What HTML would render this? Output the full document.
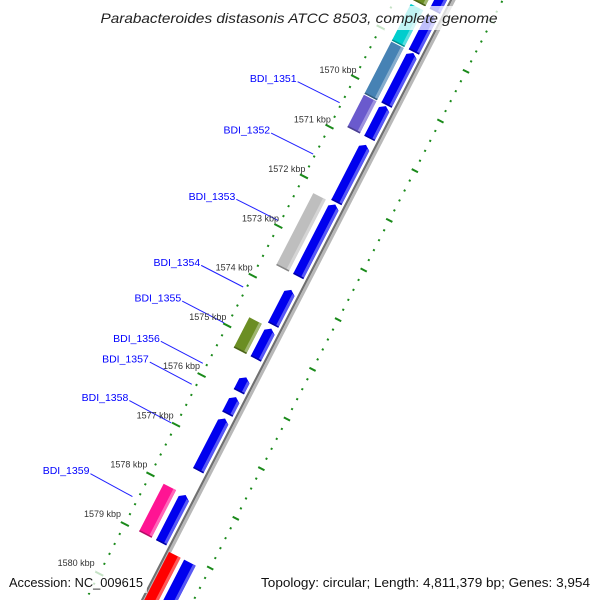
<!DOCTYPE html>
<html><head><meta charset="utf-8"><style>
html,body{margin:0;padding:0;background:#fff;overflow:hidden;width:600px;height:600px;}
svg{display:block;font-family:"Liberation Sans","DejaVu Sans",sans-serif;overflow:hidden;}
</style></head><body>
<svg id="map" width="600" height="600" viewBox="0 0 600 600" xmlns="http://www.w3.org/2000/svg">
<defs><clipPath id="frame"><rect x="0" y="0" width="600" height="600"/></clipPath></defs>
<rect x="0" y="0" width="600" height="600" fill="#fff"/>
<g clip-path="url(#frame)">
<g id="track" transform="translate(451,0) rotate(27.25)"></g>
<g id="labels"></g>
</g>
<rect x="96" y="6" width="408" height="24" fill="#fff" fill-opacity="0.75"/>
<text x="299" y="23" text-anchor="middle" font-size="14" font-style="italic" fill="#222" textLength="397" lengthAdjust="spacingAndGlyphs">Parabacteroides distasonis ATCC 8503, complete genome</text>
<rect x="5" y="571" width="142" height="22" fill="#fff" fill-opacity="0.75"/>
<text x="9" y="587" font-size="13" fill="#111" textLength="134" lengthAdjust="spacingAndGlyphs">Accession: NC_009615</text>
<rect x="256" y="571" width="338" height="22" fill="#fff" fill-opacity="0.75"/>
<text x="261" y="587" font-size="13" fill="#111" textLength="329" lengthAdjust="spacingAndGlyphs">Topology: circular; Length: 4,811,379 bp; Genes: 3,954</text>
</svg>
<script>
// forward genes (kbp)
const fwdStart = [1567.5, 1568.38, 1569.14, 1570.21, 1570.99, 1572.19, 1573.91, 1574.69, 1575.67, 1576.07, 1576.5, 1578.04];
const fwdEnd   = [1568.3, 1569.12, 1570.19, 1570.86, 1572.15, 1573.64, 1574.62, 1575.30, 1575.96, 1576.41, 1577.55, 1579.0];
const fwdCog   = ["#6b8e23", "#00cdcd", "#4682b4", "#6a5acd", "", "#bebebe", "", "#6b8e23", "", "", "", "#ff1493"];
const fwdNames = ["", "", "", "BDI_1351", "BDI_1352", "BDI_1353", "BDI_1354", "BDI_1355", "BDI_1356", "BDI_1357", "BDI_1358", "BDI_1359"];
// reverse genes
const revStart = [1579.08];
const revEnd   = [1580.9];
const revCog   = ["#ff0000"];
// ticks
const tickKbp = [1568, 1569, 1570, 1571, 1572, 1573, 1574, 1575, 1576, 1577, 1578, 1579, 1580, 1581];
const tickLabels = ["1568 kbp","1569 kbp","1570 kbp","1571 kbp","1572 kbp","1573 kbp","1574 kbp","1575 kbp","1576 kbp","1577 kbp","1578 kbp","1579 kbp","1580 kbp","1581 kbp"];
const shownTicks = [1570, 1571, 1572, 1573, 1574, 1575, 1576, 1577, 1578, 1579, 1580];

const NS = "http://www.w3.org/2000/svg";
const track = document.getElementById('track');
const labels = document.getElementById('labels');
const K0 = 1570, U0 = 112.4, PX = 55.87;
function u(k){ return U0 + (k - K0) * PX; }
const S = Math.sin(27.25*Math.PI/180), C = Math.cos(27.25*Math.PI/180);
function P(v, uu){ return [451 - S*uu + C*v, C*uu + S*v]; }
// curvature correction for labels
function corr(k){ const d = Math.max(0, k - 1572); return [-0.75*d, -0.7*d]; }
function mk(tag, attrs, parent){
  const e = document.createElementNS(NS, tag);
  for (const k in attrs) e.setAttribute(k, attrs[k]);
  parent.appendChild(e); return e;
}
function lighten(hex){
  const n = parseInt(hex.slice(1),16);
  let r=(n>>16)&255,g=(n>>8)&255,b=n&255;
  r=Math.round(r+(255-r)*0.35);g=Math.round(g+(255-g)*0.35);b=Math.round(b+(255-b)*0.35);
  return "rgb("+r+","+g+","+b+")";
}
function darken(hex){
  const n = parseInt(hex.slice(1),16);
  return "rgb("+Math.round(((n>>16)&255)*0.7)+","+Math.round(((n>>8)&255)*0.7)+","+Math.round((n&255)*0.7)+")";
}

// backbone
let bb = mk('rect', {x:-1, y:-50, width:2.2, height:760, fill:'#707070'}, track);


let bb2 = mk('rect', {x:1.2, y:-50, width:3, height:760, fill:'#b8b8b8'}, track);



// tick rings
const ringV = [-50, 46];
ringV.forEach((rv, ri) => {
  for (let i = 0; i <= 75; i++) {
    const k = 1567 + i * 0.2;
    if (Math.abs(k - Math.round(k)) < 0.01) continue;
    const d = mk('rect', {x: rv-1, y: u(k)-1, width: 2, height: 2, fill: '#1a8a1a'}, track);
    
    
  }
  tickKbp.forEach(k => {
    const len = ri === 0 ? 9 : 7;
    const t = mk('rect', {x: rv - len/2, y: u(k)-1, width: len, height: 2, fill: '#1a8a1a'}, track);
    
    
  });
});

function geneShape(v1, v2, k1, k2, fill, name, tip){
  const a = u(k1), b = u(k2);
  const g = mk('g', {}, track);
  
  
  let pts;
  if (tip === 'up') pts = [[(v1+v2)/2,a],[v2,a+4],[v2,b],[v1,b],[v1,a+4]];
  else pts = [[v1,a],[v2,a],[v2,b],[v1,b]];
  mk('polygon', {points: pts.map(p=>p.join(',')).join(' '), fill: fill}, g);
  const hw = 3;
  let hp;
  if (tip === 'up') hp = [[v2-hw,a+3],[v2,a+4],[v2,b],[v2-hw,b]];
  else hp = [[v2-hw,a],[v2,a],[v2,b],[v2-hw,b]];
  mk('polygon', {points: hp.map(p=>p.join(',')).join(' '), fill: lighten(fill)}, g);
  mk('rect', {x: v1, y: b-1.5, width: v2-v1, height: 1.5, fill: darken(fill)}, g);
  return g;
}

fwdStart.forEach((s, i) => {
  geneShape(-15, -3.5, s, fwdEnd[i], '#0000ee', 'forward-gene', 'up');
  if (fwdCog[i]) geneShape(-34, -20, s, fwdEnd[i], fwdCog[i], 'cog-feature', 'none');
  if (fwdNames[i]) {
    const mid = (s + fwdEnd[i]) / 2;
    const e0 = P(-52, u(mid));
    const c = corr(mid);
    const e = [e0[0] + c[0]*0.6, e0[1] + c[1]*0.6];
    const st = [e[0]-42, e[1]-21 + c[1]*0.4];
    const ln = mk('line', {x1: st[0], y1: st[1], x2: e[0], y2: e[1], stroke: '#2020ff', 'stroke-width': 1}, labels);
    
    
    const tx = mk('text', {x: st[0]-1, y: st[1]+0.5, 'text-anchor': 'end', 'font-size': 10.5, fill: '#0000ff'}, labels);
    tx.textContent = fwdNames[i];
    
    
  }
});
revStart.forEach((s, i) => {
  geneShape(2, 15, s, revEnd[i], revCog[i], 'reverse-cog-feature', 'none');
  geneShape(19, 32, s, revEnd[i], '#0000ee', 'reverse-gene', 'none');
});

tickKbp.forEach((k, i) => {
  if (shownTicks.indexOf(k) < 0) return;
  const p = P(-52, u(k) - 7);
  const c = corr(k);
  const t = mk('text', {x: p[0] + c[0], y: p[1] + 3 + c[1]*0.6, 'text-anchor': 'end', 'font-size': 9, fill: '#333'}, labels);
  t.textContent = tickLabels[i];
  
  
});
</script>
</body></html>
